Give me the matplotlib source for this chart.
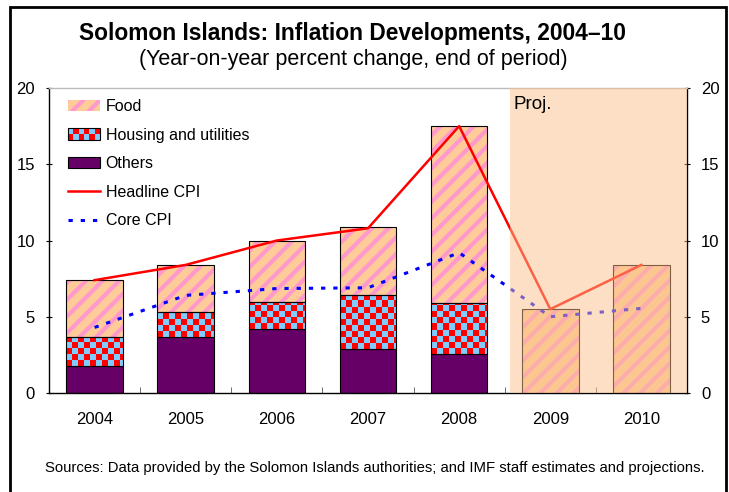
"""
Solomon Islands inflation developments, 2004-10: stacked CPI components with
headline and core CPI lines, projection years shaded.
"""

import matplotlib

matplotlib.use("Agg")
import matplotlib.pyplot as plt
import numpy as np
from matplotlib.legend_handler import HandlerBase
from matplotlib.lines import Line2D
from matplotlib.patches import Patch, Rectangle

years = ["2004", "2005", "2006", "2007", "2008", "2009", "2010"]
others = [1.8, 3.7, 4.2, 2.9, 2.55, 0.0, 0.0]
housing = [1.9, 1.6, 1.75, 3.5, 3.35, 0.0, 0.0]
food = [3.7, 3.1, 4.05, 4.5, 11.6, 5.5, 8.4]
headline_cpi = [7.4, 8.4, 10.0, 10.8, 17.5, 5.5, 8.4]
core_cpi = [4.3, 6.4, 6.85, 6.9, 9.2, 5.0, 5.55]
proj_start = 4.56

FOOD_BASE = "#FFCC99"
FOOD_STRIPE = "#FF99CC"
CHECK_A = "#FF0000"
CHECK_B = "#80CCFF"
OTHERS = "#660066"
SHADE = "#FBC18B"

W, H, DPI = 729, 492, 100
AX_L, AX_R, AX_T, AX_B = 49, 687, 88, 393
BAR_W = 0.62
CELL_PX = 6.0

plt.rcParams.update(
    {
        "font.family": ["Liberation Sans", "DejaVu Sans"],
        "hatch.linewidth": 3.0,
    }
)


class HandlerChecker(HandlerBase):
    def legend_artist(self, legend, orig_handle, fontsize, handlebox):
        x0, y0 = -handlebox.xdescent, -handlebox.ydescent
        w, h = handlebox.width, handlebox.height
        ncol, nrow = 6, 2
        tr = handlebox.get_transform()
        for i in range(ncol):
            for j in range(nrow):
                c = CHECK_A if (i + j) % 2 == 0 else CHECK_B
                handlebox.add_artist(
                    Rectangle((x0 + i * w / ncol, y0 + j * h / nrow), w / ncol, h / nrow,
                              facecolor=c, edgecolor="none", transform=tr)
                )
        outline = Rectangle((x0, y0), w, h, facecolor="none", edgecolor="black", lw=0.8, transform=tr)
        handlebox.add_artist(outline)
        return outline


def checker_fill(ax, bar, px_per_x, px_per_y):
    x0, y0 = bar.get_x(), bar.get_y()
    bw, bh = bar.get_width(), bar.get_height()
    if bh <= 0:
        return
    dx, dy = CELL_PX / px_per_x, CELL_PX / px_per_y
    ncol = int(np.ceil(bw / dx))
    nrow = int(np.ceil(bh / dy))
    grid = (np.add.outer(np.arange(nrow), np.arange(ncol)) % 2).astype(float)
    cmap = matplotlib.colors.ListedColormap([CHECK_A, CHECK_B])
    im = ax.imshow(grid, cmap=cmap, extent=[x0, x0 + ncol * dx, y0, y0 + nrow * dy],
                   origin="lower", interpolation="nearest", aspect="auto", zorder=2)
    im.set_clip_path(bar)


def main() -> None:
    fig = plt.figure(figsize=(W / DPI, H / DPI), dpi=DPI)
    ax = fig.add_axes([AX_L / W, 1 - AX_B / H, (AX_R - AX_L) / W, (AX_B - AX_T) / H])
    x = np.arange(len(years))
    xlim, ylim = (-0.5, len(years) - 0.5), (0, 20)
    px_per_x = (AX_R - AX_L) / (xlim[1] - xlim[0])
    px_per_y = (AX_B - AX_T) / (ylim[1] - ylim[0])

    others_arr = np.array(others)
    housing_arr = np.array(housing)
    food_arr = np.array(food)
    has_stack = others_arr + housing_arr > 0

    ax.bar(x[has_stack], others_arr[has_stack], BAR_W, color=OTHERS, edgecolor="black", lw=0.8, zorder=2)
    hbars = ax.bar(x[has_stack], housing_arr[has_stack], BAR_W, bottom=others_arr[has_stack],
                   color=CHECK_B, edgecolor="none", zorder=2)
    for b in hbars:
        checker_fill(ax, b, px_per_x, px_per_y)
    ax.bar(x[has_stack], housing_arr[has_stack], BAR_W, bottom=others_arr[has_stack],
           facecolor="none", edgecolor="black", lw=0.8, zorder=3)

    food_bottom = others_arr + housing_arr
    ax.bar(x, food_arr, BAR_W, bottom=food_bottom, color=FOOD_BASE, edgecolor="none", zorder=2)
    ax.bar(x, food_arr, BAR_W, bottom=food_bottom, facecolor="none", edgecolor=FOOD_STRIPE,
           hatch="//", lw=0, zorder=2.2)
    ax.bar(x, food_arr, BAR_W, bottom=food_bottom, facecolor="none", edgecolor="black", lw=0.8, zorder=3)

    ax.plot(x, headline_cpi, color="red", lw=1.8, zorder=4)
    ax.plot(x, core_cpi, color="blue", lw=2.2, linestyle=(0, (1.4, 2.6)), zorder=4)

    ax.axvspan(proj_start, xlim[1], color=SHADE, alpha=0.5, lw=0, zorder=5)
    ax.text(proj_start + 0.04, 19.5, "Proj.", fontsize=13.5, ha="left", va="top", zorder=6)

    ax.set_xlim(*xlim)
    ax.set_ylim(*ylim)
    ax.set_xticks(x, years)
    ax.set_xticks(np.arange(0.5, len(years) - 1, 1.0), minor=True)
    ax.tick_params(axis="x", which="major", length=0, pad=14, labelsize=12)
    ax.tick_params(axis="x", which="minor", direction="in", length=4, color="#555555")
    ax.set_yticks([0, 5, 10, 15, 20])
    ax.tick_params(axis="y", which="major", direction="inout", length=4, pad=8, labelsize=12,
                   left=True, right=True, labelleft=True, labelright=True)
    for side in ("left", "bottom", "right"):
        ax.spines[side].set_color("black")
        ax.spines[side].set_linewidth(1.0)
    ax.spines["top"].set_color("#BBBBBB")
    ax.spines["top"].set_linewidth(1.0)

    checker_handle = Patch()
    handles = [
        Patch(facecolor=FOOD_BASE, edgecolor=FOOD_STRIPE, hatch="//", lw=0),
        checker_handle,
        Patch(facecolor=OTHERS, edgecolor="black", lw=0.8),
        Line2D([], [], color="red", lw=1.8),
        Line2D([], [], color="blue", lw=2.2, linestyle=(0, (1.4, 2.6))),
    ]
    labels = ["Food", "Housing and utilities", "Others", "Headline CPI", "Core CPI"]
    ax.legend(handles, labels, loc="upper left", bbox_to_anchor=(0.02, 0.985), frameon=False,
              fontsize=11.5, handlelength=2.0, handletextpad=0.35, labelspacing=0.85,
              borderaxespad=0.0, handler_map={checker_handle: HandlerChecker()})

    fig.text(352 / W, 1 - 33 / H, "Solomon Islands: Inflation Developments, 2004\u201310",
             fontsize=16.4, fontweight="bold", ha="center", va="center")
    fig.text(353 / W, 1 - 60 / H, "(Year-on-year percent change, end of period)",
             fontsize=15.5, ha="center", va="center")
    fig.text(375 / W, 1 - 468 / H,
             "Sources: Data provided by the Solomon Islands authorities; and IMF staff estimates and projections.",
             fontsize=10.7, ha="center", va="center")

    fig.patches.append(Rectangle((10 / W, -0.02), (726 - 10) / W, 1 - 7 / H + 0.02,
                                 transform=fig.transFigure, fill=False, edgecolor="black", lw=2.0))

    fig.savefig("out.png", dpi=DPI)
    plt.close(fig)


if __name__ == "__main__":
    main()
